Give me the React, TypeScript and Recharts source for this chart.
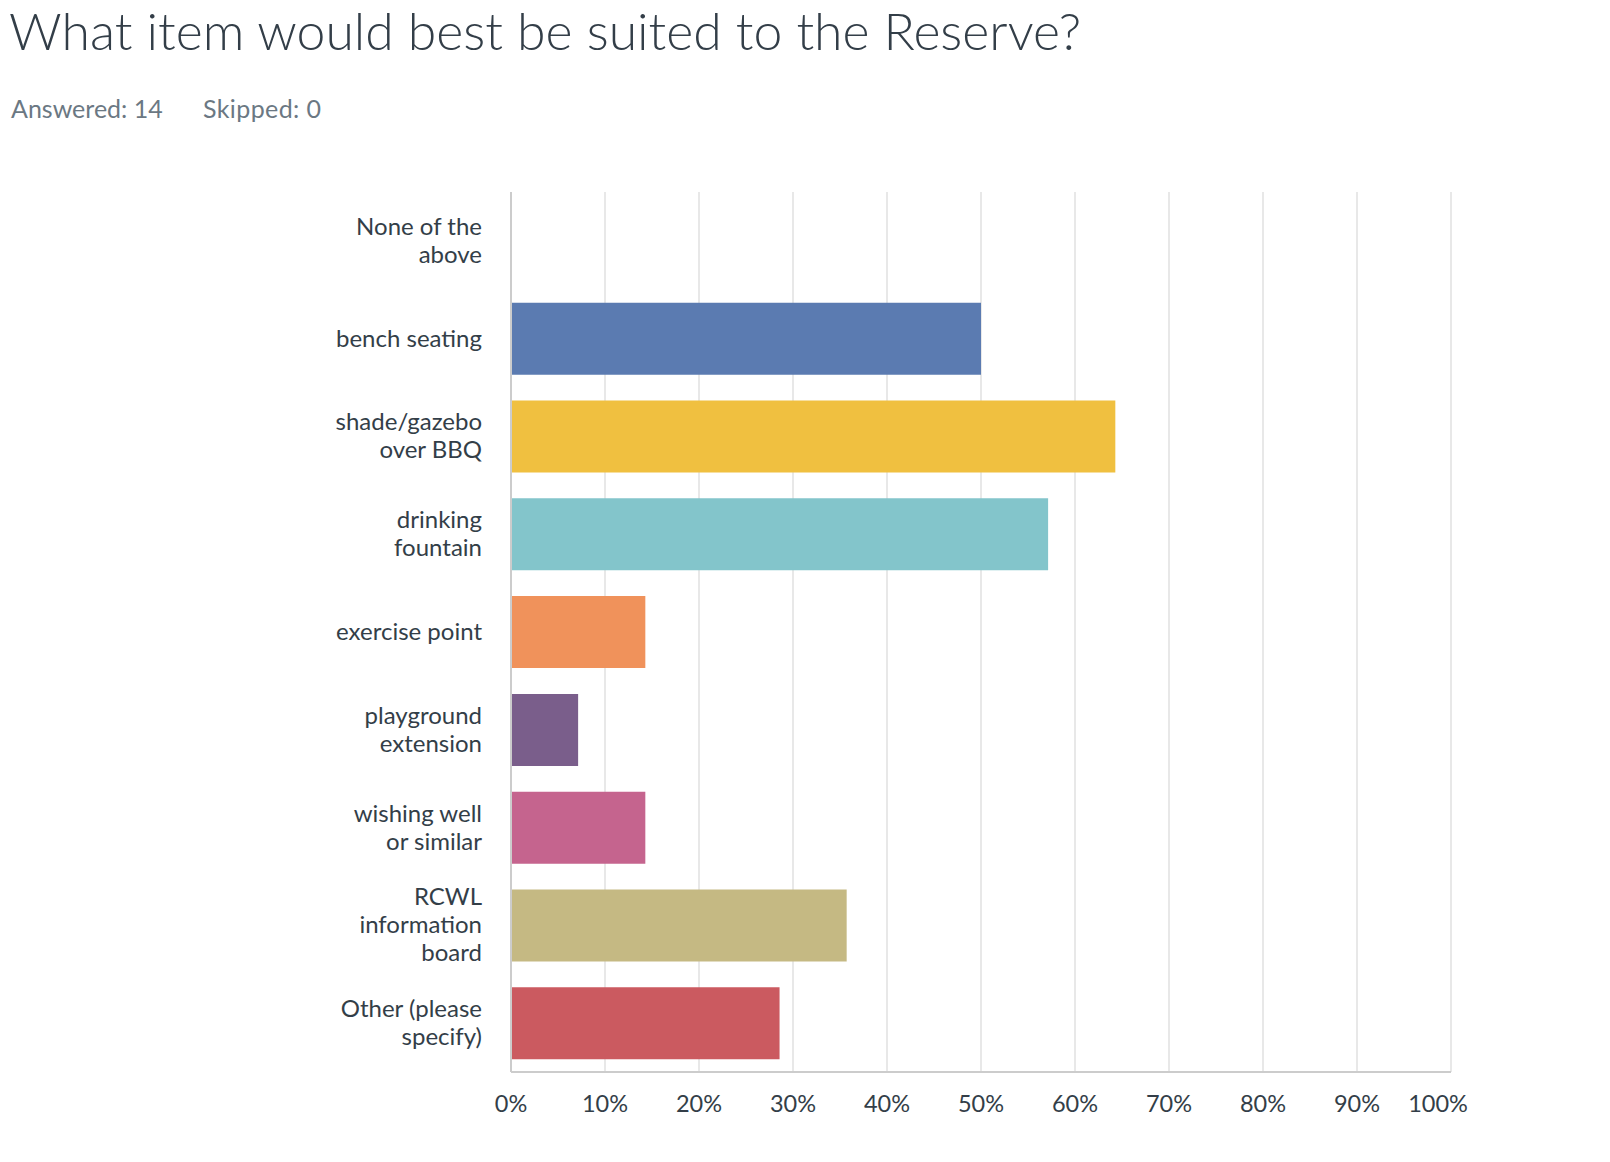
import React from "react";
import { BarChart, Bar, XAxis, YAxis, CartesianGrid, Cell } from "recharts";

const TITLE = "What item would best be suited to the Reserve?";
const ANSWERED = "Answered: 14";
const SKIPPED = "Skipped: 0";

const categories = [
  "None of the above",
  "bench seating",
  "shade/gazebo over BBQ",
  "drinking fountain",
  "exercise point",
  "playground extension",
  "wishing well or similar",
  "RCWL information board",
  "Other (please specify)",
];
const values = [0, 50.0, 64.29, 57.14, 14.29, 7.14, 14.29, 35.71, 28.57];
const colors = [
  "#5B7BB1",
  "#5B7BB1",
  "#F0C040",
  "#83C5CB",
  "#F0925B",
  "#7A5E8B",
  "#C5648E",
  "#C5B983",
  "#CB5A60",
];
const xTicks = [0, 10, 20, 30, 40, 50, 60, 70, 80, 90, 100];

const data = categories.map((name, i) => ({ name, value: values[i], color: colors[i] }));

const FONT = "Lato, 'Open Sans', sans-serif";
const TEXT = "#333e48";

function wrap(label: string, maxChars: number): string[] {
  const words = label.split(" ");
  const lines: string[] = [];
  let cur = "";
  for (const w of words) {
    const next = cur ? cur + " " + w : w;
    if (next.length > maxChars && cur) {
      lines.push(cur);
      cur = w;
    } else {
      cur = next;
    }
  }
  if (cur) lines.push(cur);
  return lines;
}

const YTick = (props: any) => {
  const { x, y, payload } = props;
  const lines = wrap(String(payload.value), 14);
  const lh = 28;
  const startY = y - ((lines.length - 1) * lh) / 2 + 8;
  return (
    <text x={x - 21} y={startY} textAnchor="end" fill={TEXT} fontSize={24} fontFamily={FONT}>
      {lines.map((l, i) => (
        <tspan key={i} x={x - 21} y={startY + i * lh}>
          {l}
        </tspan>
      ))}
    </text>
  );
};

const XTick = (props: any) => {
  const { x, y, payload } = props;
  const dx = payload.value === 100 ? -13 : 0;
  return (
    <text x={x + dx} y={y} dy={32} textAnchor="middle" fill={TEXT} fontSize={23.5} fontFamily={FONT}>
      {payload.value + "%"}
    </text>
  );
};

export default function App() {
  return (
    <div
      style={{
        position: "absolute",
        left: 0,
        top: 0,
        width: 1610,
        height: 1162,
        background: "#fff",
        fontFamily: FONT,
      }}
    >
      <div
        style={{
          position: "absolute",
          left: 9,
          top: -2,
          fontSize: 51.75,
          fontWeight: 300,
          color: TEXT,
          lineHeight: "64px",
          whiteSpace: "nowrap",
        }}
      >
        {TITLE}
      </div>
      <div
        style={{
          position: "absolute",
          left: 11,
          top: 93,
          fontSize: 25,
          color: "#6b7883",
          lineHeight: "30px",
          whiteSpace: "nowrap",
        }}
      >
        <span>{ANSWERED}</span>
        <span style={{ position: "absolute", left: 192, letterSpacing: 0.4 }}>{SKIPPED}</span>
      </div>
      <div style={{ position: "absolute", left: 0, top: 0 }}>
        <BarChart
          width={1500}
          height={1162}
          data={data}
          layout="vertical"
          margin={{ top: 192, right: 49, bottom: 30, left: 0 }}
        >
          <CartesianGrid horizontal={false} stroke="#e8e8e8" strokeWidth={2} />
          <XAxis
            type="number"
            domain={[0, 100]}
            ticks={xTicks}
            interval={0}
            height={60}
            axisLine={{ stroke: "#cccccc", strokeWidth: 2 }}
            tickLine={false}
            tick={<XTick />}
          />
          <YAxis
            type="category"
            dataKey="name"
            width={511}
            interval={0}
            axisLine={{ stroke: "#cccccc", strokeWidth: 2 }}
            tickLine={false}
            tick={<YTick />}
          />
          <Bar dataKey="value" barSize={72} isAnimationActive={false}>
            {data.map((d, i) => (
              <Cell key={i} fill={d.color} />
            ))}
          </Bar>
        </BarChart>
      </div>
    </div>
  );
}
